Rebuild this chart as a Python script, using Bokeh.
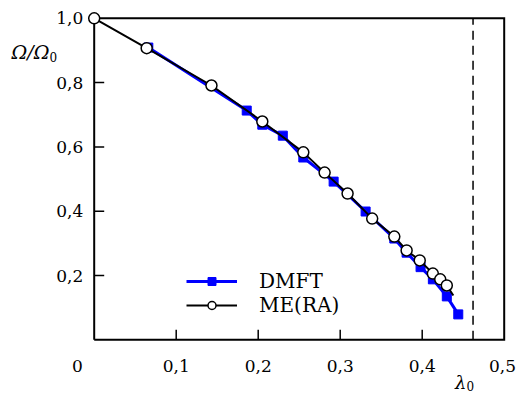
from bokeh.plotting import figure
from bokeh.models import Range1d, Legend, LegendItem
from bokeh.core.properties import value
from bokeh.embed import file_html
from bokeh.resources import INLINE

# ---- data ----
dmft_x = [0.066, 0.186, 0.205, 0.230, 0.255, 0.292, 0.331, 0.366, 0.381, 0.398, 0.413, 0.430, 0.444]
dmft_y = [0.909, 0.713, 0.669, 0.635, 0.567, 0.492, 0.399, 0.315, 0.271, 0.226, 0.188, 0.135, 0.079]

me_x = [0.000, 0.064, 0.143, 0.205, 0.255, 0.281, 0.309, 0.339, 0.366, 0.381, 0.397, 0.413, 0.422, 0.430]
me_y = [1.000, 0.907, 0.791, 0.679, 0.583, 0.520, 0.455, 0.377, 0.321, 0.278, 0.247, 0.206, 0.188, 0.169]
me_tail_x = [0.438]
me_tail_y = [0.138]

lambda0 = 0.462

x_min, x_max = 0.0, 0.5
y_min, y_max = 0.0, 1.0
xticks = [0.1, 0.2, 0.3, 0.4, 0.5]
xtick_labels = ["0,1", "0,2", "0,3", "0,4", "0,5"]
yticks = [0.2, 0.4, 0.6, 0.8, 1.0]
ytick_labels = ["0,2", "0,4", "0,6", "0,8", "1,0"]
origin_label = "0"

# ---- layout: whole canvas is the plotting frame; axes drawn by hand ----
W, H = 517, 394
X0PX, XSCALE = 93.7, 820.0   # pixel of x=0, pixels per unit
Y0PX, YSCALE = 339.3, 321.5  # pixel of y=0, pixels per unit


def px2x(px):
    return (px - X0PX) / XSCALE


def py2y(py):
    return (Y0PX - py) / YSCALE


FONT = "DejaVu Serif"
TICK_FS = "17px"

p = figure(width=W, height=H, x_range=Range1d(px2x(0), px2x(W)), y_range=Range1d(py2y(H), py2y(0)),
           output_backend="svg", toolbar_location=None,
           min_border=0, min_border_left=0, min_border_right=0, min_border_top=0, min_border_bottom=0)
p.axis.visible = False
p.outline_line_color = None
p.xgrid.visible = False
p.ygrid.visible = False
p.background_fill_color = "white"
p.border_fill_color = "white"

TICK = 10  # px, inward

# frame box
p.line([x_min, x_max, x_max, x_min, x_min], [y_min, y_min, y_max, y_max, y_min],
       line_color="black", line_width=2, line_join="miter")

# inward ticks
xt_inner = [t for t in xticks if t < x_max]
p.segment(x0=xt_inner, y0=[y_min] * len(xt_inner), x1=xt_inner,
          y1=[py2y(Y0PX - TICK)] * len(xt_inner), line_color="black", line_width=1.5)
yt_inner = [t for t in yticks if t < y_max]
p.segment(x0=[x_min] * len(yt_inner), y0=yt_inner, x1=[px2x(X0PX + TICK)] * len(yt_inner),
          y1=yt_inner, line_color="black", line_width=1.5)

# tick labels (the last x label is kept inside the canvas)
xlab_pos = [min(t, px2x(W - 15)) for t in xticks]
p.text(x=xlab_pos, y=[py2y(365)] * len(xticks), text=xtick_labels, text_font=value(FONT),
       text_font_size=TICK_FS, text_align="center", text_baseline="middle", text_color="black")
p.text(x=[px2x(82.7)] * len(yticks), y=yticks, text=ytick_labels, text_font=value(FONT),
       text_font_size=TICK_FS, text_align="right", text_baseline="middle", text_color="black")
p.text(x=[px2x(77)], y=[py2y(365)], text=[origin_label], text_font=value(FONT),
       text_font_size=TICK_FS, text_align="center", text_baseline="middle", text_color="black")

# axis titles
p.text(x=[px2x(49)], y=[py2y(51)], text=["Ω/Ω"], text_font=value(FONT), text_font_size="19px",
       text_font_style="italic", text_align="right", text_baseline="middle", text_color="black")
p.text(x=[px2x(49)], y=[py2y(56)], text=["0"], text_font=value(FONT), text_font_size="12px",
       text_align="left", text_baseline="middle", text_color="black")
p.text(x=[px2x(466)], y=[py2y(382)], text=["λ"], text_font=value(FONT), text_font_size="18px",
       text_font_style="italic", text_align="right", text_baseline="middle", text_color="black")
p.text(x=[px2x(466)], y=[py2y(385)], text=["0"], text_font=value(FONT), text_font_size="12px",
       text_align="left", text_baseline="middle", text_color="black")

# dashed line at lambda0
p.line(x=[lambda0, lambda0], y=[y_min, y_max], line_color="black", line_width=1.5, line_dash="9 6")

# DMFT
dl = p.line(dmft_x, dmft_y, line_color="#0000ff", line_width=3)
ds = p.scatter(dmft_x, dmft_y, marker="square", size=9, fill_color="#0000ff", line_color="#0000ff")

# ME(RA)
ml = p.line(me_x + me_tail_x, me_y + me_tail_y, line_color="black", line_width=2)
ms = p.scatter(me_x, me_y, marker="circle", size=11, fill_color="white", line_color="black", line_width=1.5)

legend = Legend(items=[LegendItem(label="DMFT", renderers=[dl, ds]),
                       LegendItem(label="ME(RA)", renderers=[ml, ms])],
                location=(186, 77), orientation="vertical",
                background_fill_alpha=0, border_line_color=None,
                padding=0, margin=0, spacing=0,
                glyph_width=51, glyph_height=20, label_height=20,
                label_standoff=22, label_text_font=FONT, label_text_font_size="20px",
                label_text_color="black")
p.add_layout(legend)

open("out.html", "w").write(file_html(p, INLINE))
